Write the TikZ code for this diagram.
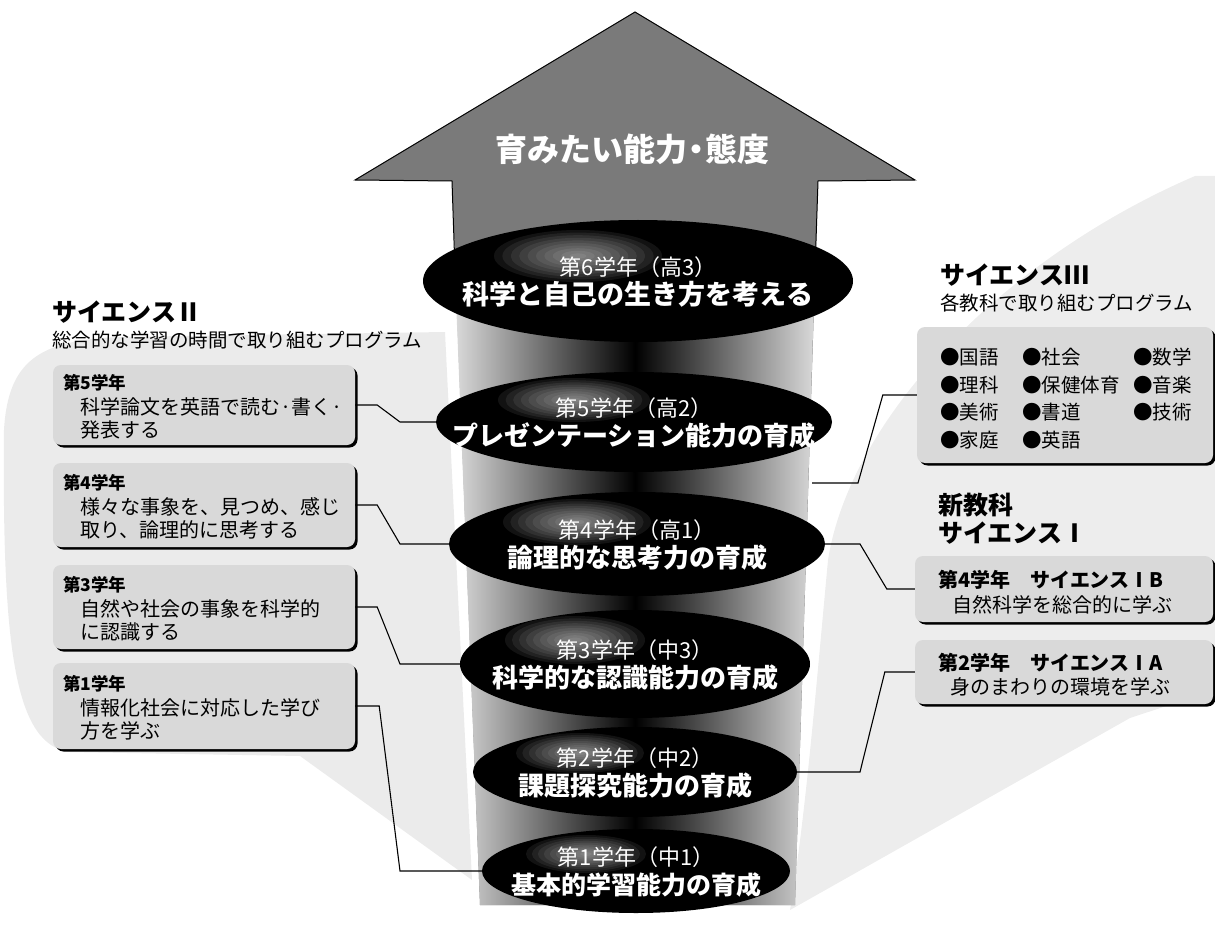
\documentclass[tikz,border=0pt]{standalone}
\usepackage{fontspec}
\setmainfont{Noto Sans CJK JP}
\usetikzlibrary{shapes.geometric,shadows,calc}
\newcommand\jfs[2]{\fontsize{#1}{#2}\selectfont}
\begin{document}
\begin{tikzpicture}[x=1pt,y=-1pt,
  conn/.style={draw=black, line width=1.1pt},
  disc/.style={ellipse, fill=black, inner sep=0pt},
  glowlayer/.style={fill=white, opacity=0.07},
  disctext/.style={text=white, align=center, inner sep=0pt, text width=380pt, anchor=base, font=\jfs{24}{29}},
  panel/.style={rounded corners=8pt, fill=gray!30, inner sep=0pt,
    general shadow={fill=black, shadow xshift=2.5pt, shadow yshift=-2.5pt}},
  bhead/.style={anchor=base west, inner sep=0pt, font=\jfs{17.5}{20}\bfseries},
  bbody/.style={anchor=base west, inner sep=0pt, align=left, text width=290pt, font=\jfs{20}{22.5}},
  ttl/.style={anchor=base west, inner sep=0pt, font=\jfs{25}{28}\bfseries},
  sub/.style={anchor=base west, inner sep=0pt, font=\jfs{19.5}{22}},
]
\useasboundingbox (0,0) rectangle (1215,925);

% background swooshes
\fill[gray!16] (4,430) .. controls (8,360) and (40,340) .. (120,337) -- (445,332) -- (472,880) -- (300,756) -- (70,752) .. controls (15,745) and (2,650) .. (4,430) -- cycle;
\fill[gray!14] (1195,176) .. controls (1000,260) and (850,420) .. (828,560) .. controls (815,700) and (805,820) .. (790,910) -- (1130,718) -- (1215,690) -- (1215,176) -- cycle;

% big arrow
\fill[black!52] (635,12) -- (915,180) -- (818,181) -- (795,905) -- (480,905) -- (452,181) -- (355,180) -- cycle;
\shade[left color=gray!30, right color=gray!30, middle color=black] (456,300) -- (814,300) -- (795,905) -- (480,905) -- cycle;
\draw[line width=1pt] (456,300) -- (452,181) -- (355,180) -- (635,12) -- (915,180) -- (818,181) -- (814,300);
\node[font=\jfs{32}{36}\bfseries, text=white, anchor=base, inner sep=0pt] (title) at (632,162) {育みたい能力\kern-7pt・\kern-7pt態度};

% discs
\node[disc, minimum width=430pt, minimum height=122pt] (e1) at (638,281) {};
\node[disc, minimum width=396pt, minimum height=100pt] (e2) at (634,422) {};
\node[disc, minimum width=376pt, minimum height=104pt] (e3) at (637,544) {};
\node[disc, minimum width=350pt, minimum height=108pt] (e4) at (635,664) {};
\node[disc, minimum width=324pt, minimum height=90pt] (e5) at (635,772) {};
\node[disc, minimum width=308pt, minimum height=84pt] (e6) at (636,871) {};

% highlights on the discs
\foreach \s in {1,0.9,0.8,0.7,0.6,0.5,0.4,0.3,0.2,0.1}{
  \fill[glowlayer] ($(e1)+(-60,-25)$) ellipse [x radius=\s*84pt, y radius=\s*26pt];
  \fill[glowlayer] ($(e2)+(-60,-22)$) ellipse [x radius=\s*76pt, y radius=\s*22pt];
  \fill[glowlayer] ($(e3)+(-60,-22)$) ellipse [x radius=\s*74pt, y radius=\s*23pt];
  \fill[glowlayer] ($(e4)+(-60,-24)$) ellipse [x radius=\s*70pt, y radius=\s*24pt];
  \fill[glowlayer] ($(e5)+(-55,-19)$) ellipse [x radius=\s*64pt, y radius=\s*20pt];
  \fill[glowlayer] ($(e6)+(-50,-17)$) ellipse [x radius=\s*60pt, y radius=\s*19pt];
}

\node[disctext] (t1) at ($(e1)+(0,-5.6)$) {{\jfs{22}{29}第6学年（高3）}\\{\jfs{27}{29}\bfseries 科学と自己の生き方を考える}};
\node[disctext] (t2) at ($(e2)+(0,-5.6)$) {{\jfs{22}{29}第5学年（高2）}\\{\jfs{26}{29}\bfseries プレゼンテーション能力の育成}};
\node[disctext] (t3) at ($(e3)+(0,-5.6)$) {{\jfs{22}{29}第4学年（高1）}\\{\jfs{26}{29}\bfseries 論理的な思考力の育成}};
\node[disctext] (t4) at ($(e4)+(0,-5.6)$) {{\jfs{22}{29}第3学年（中3）}\\{\jfs{26}{29}\bfseries 科学的な認識能力の育成}};
\node[disctext] (t5) at ($(e5)+(0,-5.6)$) {{\jfs{22}{29}第2学年（中2）}\\{\jfs{26}{29}\bfseries 課題探究能力の育成}};
\node[disctext] (t6) at ($(e6)+(0,-5.6)$) {{\jfs{22}{29}第1学年（中1）}\\{\jfs{25}{29}\bfseries 基本的学習能力の育成}};

% left: Science II
\node[ttl] (s2t) at (52,321.5) {サイエンスⅡ};
\node[sub] (s2s) at (52,347.4) {総合的な学習の時間で取り組むプログラム};

\node[panel, minimum width=302pt, minimum height=80pt] (b5) at (204,405) {};
\node[panel, minimum width=302pt, minimum height=84pt] (b4) at (204,505) {};
\node[panel, minimum width=302pt, minimum height=84pt] (b3) at (204,607) {};
\node[panel, minimum width=302pt, minimum height=86pt] (b1) at (204,706) {};

\node[bhead] (h5) at ($(b5.west)+(10,-15.4)$) {第5学年};
\node[bbody] (d5) at ($(b5.west)+(27,9.6)$) {科学論文を英語で読む·書く·\\発表する};
\node[bhead] (h4) at ($(b4.west)+(10,-15.4)$) {第4学年};
\node[bbody] (d4) at ($(b4.west)+(27,9.6)$) {様々な事象を、見つめ、感じ\\取り、論理的に思考する};
\node[bhead] (h3) at ($(b3.west)+(10,-15.4)$) {第3学年};
\node[bbody] (d3) at ($(b3.west)+(27,9.6)$) {自然や社会の事象を科学的\\に認識する};
\node[bhead] (h1) at ($(b1.west)+(10,-15.4)$) {第1学年};
\node[bbody] (d1) at ($(b1.west)+(27,9.6)$) {情報化社会に対応した学び\\方を学ぶ};

% right: Science III
\node[ttl] (s3t) at (940,284.5) {サイエンスⅢ};
\node[sub] (s3s) at (940,310.4) {各教科で取り組むプログラム};
\node[panel, minimum width=296pt, minimum height=136pt] (b3r) at (1065,395) {};
\node[anchor=base west, inner sep=0pt, font=\jfs{19.5}{27.7}] (items) at (940,364.5)
  {\begin{tabular}[t]{@{}p{82pt}@{}p{111pt}@{}l@{}}●国語&●社会&●数学\\●理科&●保健体育&●音楽\\●美術&●書道&●技術\\●家庭&●英語&\end{tabular}};

% right: Science I
\node[ttl] (n1) at (938,514.5) {新教科};
\node[ttl] (n2) at (938,542.5) {サイエンスⅠ};
\node[panel, minimum width=298pt, minimum height=66pt] (bIB) at (1064,589) {};
\node[panel, minimum width=298pt, minimum height=64pt] (bIA) at (1064,672) {};
\node[anchor=base west, inner sep=0pt, align=left, text width=280pt, font=\jfs{20}{25.6}] (tIB) at ($(bIB.west)+(23,-2)$)
  {{\bfseries 第4学年　サイエンスⅠB}\\\hspace*{14pt}自然科学を総合的に学ぶ};
\node[anchor=base west, inner sep=0pt, align=left, text width=280pt, font=\jfs{20}{24.6}] (tIA) at ($(bIA.west)+(23,-2)$)
  {{\bfseries 第2学年　サイエンスⅠA}\\\hspace*{12pt}身のまわりの環境を学ぶ};

% connectors
\coordinate (lx) at (400,0);
\coordinate (rx) at (860,0);
\coordinate (s3) at (858,483);
\coordinate (s3e) at (812,483);
\draw[conn] (b5.east) -- ++(22,0) -- (lx |- e2.west) -- (e2.west);
\draw[conn] (b4.east) -- ++(22,0) -- (lx |- e3.west) -- (e3.west);
\draw[conn] (b3.east) -- ++(22,0) -- (lx |- e4.west) -- (e4.west);
\draw[conn] (b1.east) -- ++(24,0) -- (lx |- e6.west) -- (e6.west);
\draw[conn] (b3r.west) -- ++(-34,0) -- (s3) -- (s3e);
\draw[conn] (e3.east) -- (rx |- e3.east) -- ([xshift=-28pt]bIB.west) -- (bIB.west);
\draw[conn] (bIA.west) -- ++(-30,0) -- (rx |- e5.east) -- (e5.east);
\end{tikzpicture}
\end{document}
